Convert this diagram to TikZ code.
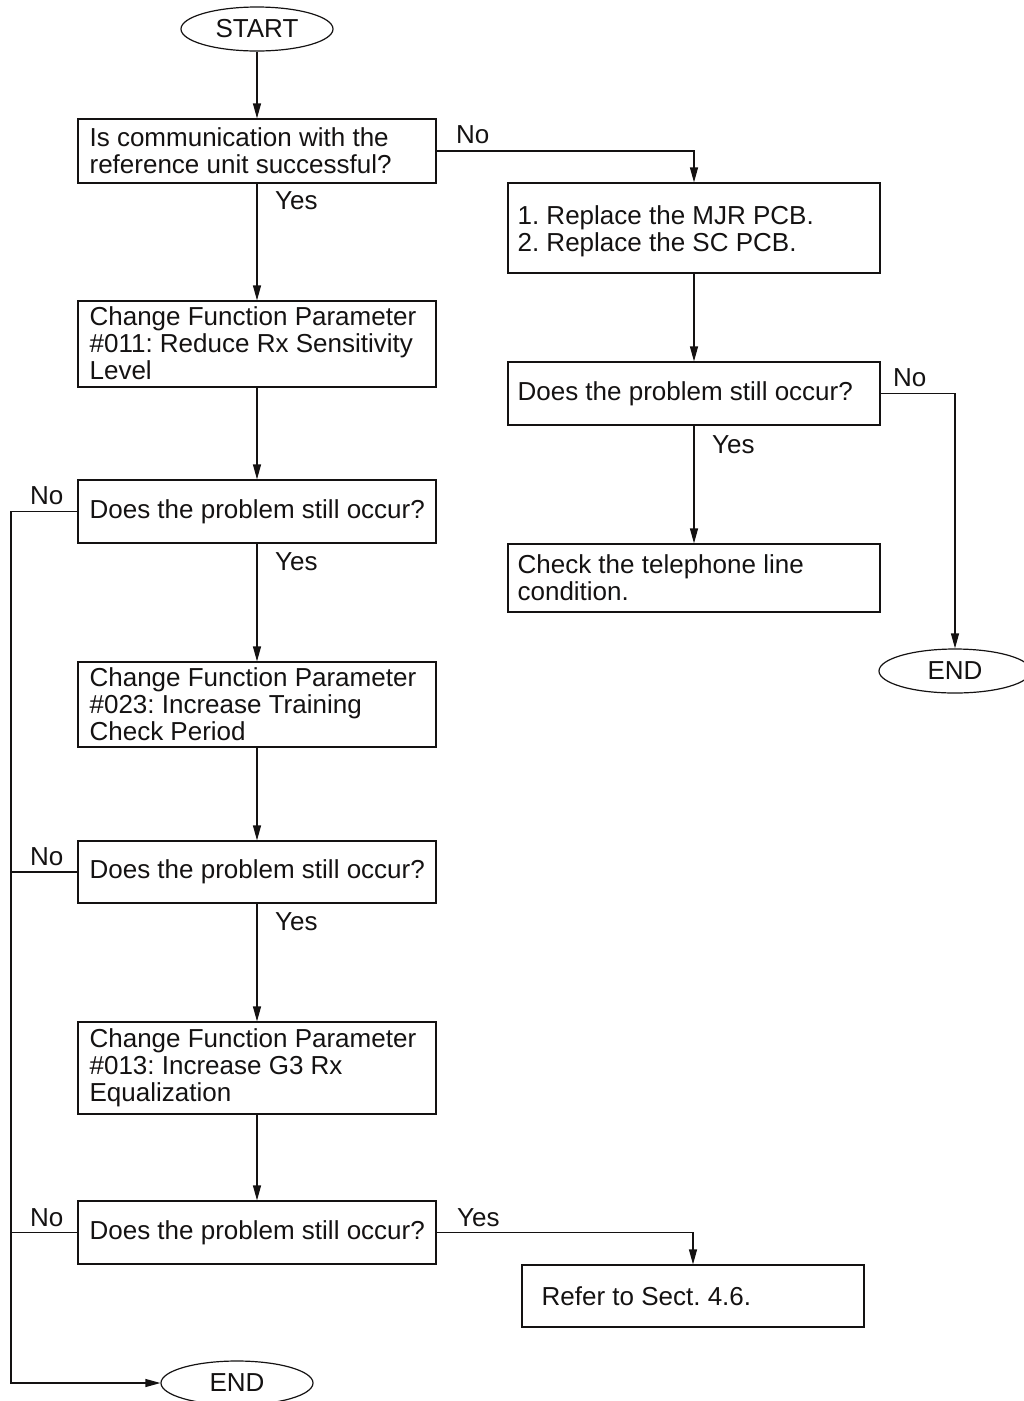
\documentclass[tikz,border=0pt]{standalone}
\usepackage{fontspec}
\setmainfont{Liberation Sans}
\usetikzlibrary{arrows.meta,shapes.geometric}
\definecolor{ink}{RGB}{20,18,18}
\frenchspacing
\begin{document}
\begin{tikzpicture}[x=1pt,y=-1pt,
  every node/.style={font=\fontsize{26}{27}\selectfont\frenchspacing, text=ink},
  box/.style={draw=ink, line width=1.2pt, rectangle, inner sep=0pt},
  lbox/.style={box, minimum width=358pt},
  rbox/.style={box, minimum width=372pt},
  term/.style={draw=ink, line width=1.2pt, ellipse, inner sep=0pt, minimum width=152pt, minimum height=44pt},
  txt/.style={inner sep=0pt, align=left, anchor=west},
  lab/.style={inner sep=0pt, anchor=west},
  line/.style={draw=ink, line width=1.2pt},
  arr/.style={line, -{Triangle[length=15pt,width=8pt]}}]
\useasboundingbox (0,0) rectangle (1024,1401);

% terminals
\node[term] (start) at (257,29) {START};
\node[term] (endR) at (955,671) {END};
\node[term] (endB) at (237,1383) {END};

% left column
\node[lbox, minimum height=64pt] (b1) at (257,151) {};
\node[txt] (b1t) at ([xshift=12pt]b1.west) {Is communication with the\\reference unit successful?};
\node[lbox, minimum height=86pt] (b2) at (257,344) {};
\node[txt] (b2t) at ([xshift=12pt,yshift=1pt]b2.west) {Change Function Parameter\\\#011: Reduce Rx Sensitivity\\Level};
\node[lbox, minimum height=63pt] (d1) at (257,511.5) {};
\node[txt] (d1t) at ([xshift=12pt]d1.west) {Does the problem still occur?};
\node[lbox, minimum height=85pt] (b3) at (257,704.5) {};
\node[txt] (b3t) at ([xshift=12pt]b3.west) {Change Function Parameter\\\#023: Increase Training\\Check Period};
\node[lbox, minimum height=62pt] (d2) at (257,872) {};
\node[txt] (d2t) at ([xshift=12pt]d2.west) {Does the problem still occur?};
\node[lbox, minimum height=92pt] (b4) at (257,1068) {};
\node[txt] (b4t) at ([xshift=12pt]b4.west) {Change Function Parameter\\\#013: Increase G3 Rx\\Equalization};
\node[lbox, minimum height=63pt] (d3) at (257,1232.5) {};
\node[txt] (d3t) at ([xshift=12pt]d3.west) {Does the problem still occur?};

% right column
\node[rbox, minimum height=90pt] (r1) at (694,228) {};
\node[txt] (r1t) at ([xshift=10pt,yshift=-3pt]r1.west) {1. Replace the MJR PCB.\\2. Replace the SC PCB.};
\node[rbox, minimum height=63pt] (r2) at (694,393.5) {};
\node[txt] (r2t) at ([xshift=10pt]r2.west) {Does the problem still occur?};
\node[rbox, minimum height=68pt] (r3) at (694,578) {};
\node[txt] (r3t) at ([xshift=10pt]r3.west) {Check the telephone line\\condition.};
\node[box, minimum width=342pt, minimum height=62pt] (ref) at (693,1296) {};
\node[txt] (reft) at ([xshift=20pt]ref.west) {Refer to Sect. 4.6.};

% left return line
\coordinate (lx) at (11,1383);

% connectors
\draw[arr] (start) -- (b1);
\draw[arr] (b1) -- (b2);
\draw[arr] (b2) -- (d1);
\draw[arr] (d1) -- (b3);
\draw[arr] (b3) -- (d2);
\draw[arr] (d2) -- (b4);
\draw[arr] (b4) -- (d3);
\draw[arr] (b1.east) -| (r1.north);
\draw[arr] (r1) -- (r2);
\draw[arr] (r2) -- (r3);
\draw[arr] (r2.east) -| (endR.north);
\draw[arr] (d3.east) -| (ref.north);
\draw[arr] (d1.west) -- (d1.west -| lx) -- (lx) -- (endB.west);
\draw[line] (d2.west) -- (d2.west -| lx);
\draw[line] (d3.west) -- (d3.west -| lx);

% labels
\node[lab] (l1) at (456,135) {No};
\node[lab] (l2) at (275,201) {Yes};
\node[lab] (l3) at (893,378) {No};
\node[lab] (l4) at (712,445) {Yes};
\node[lab] (l5) at (30,496) {No};
\node[lab] (l6) at (275,562) {Yes};
\node[lab] (l7) at (30,857) {No};
\node[lab] (l8) at (275,922) {Yes};
\node[lab] (l9) at (30,1218) {No};
\node[lab] (l10) at (457,1218) {Yes};
\end{tikzpicture}
\end{document}
